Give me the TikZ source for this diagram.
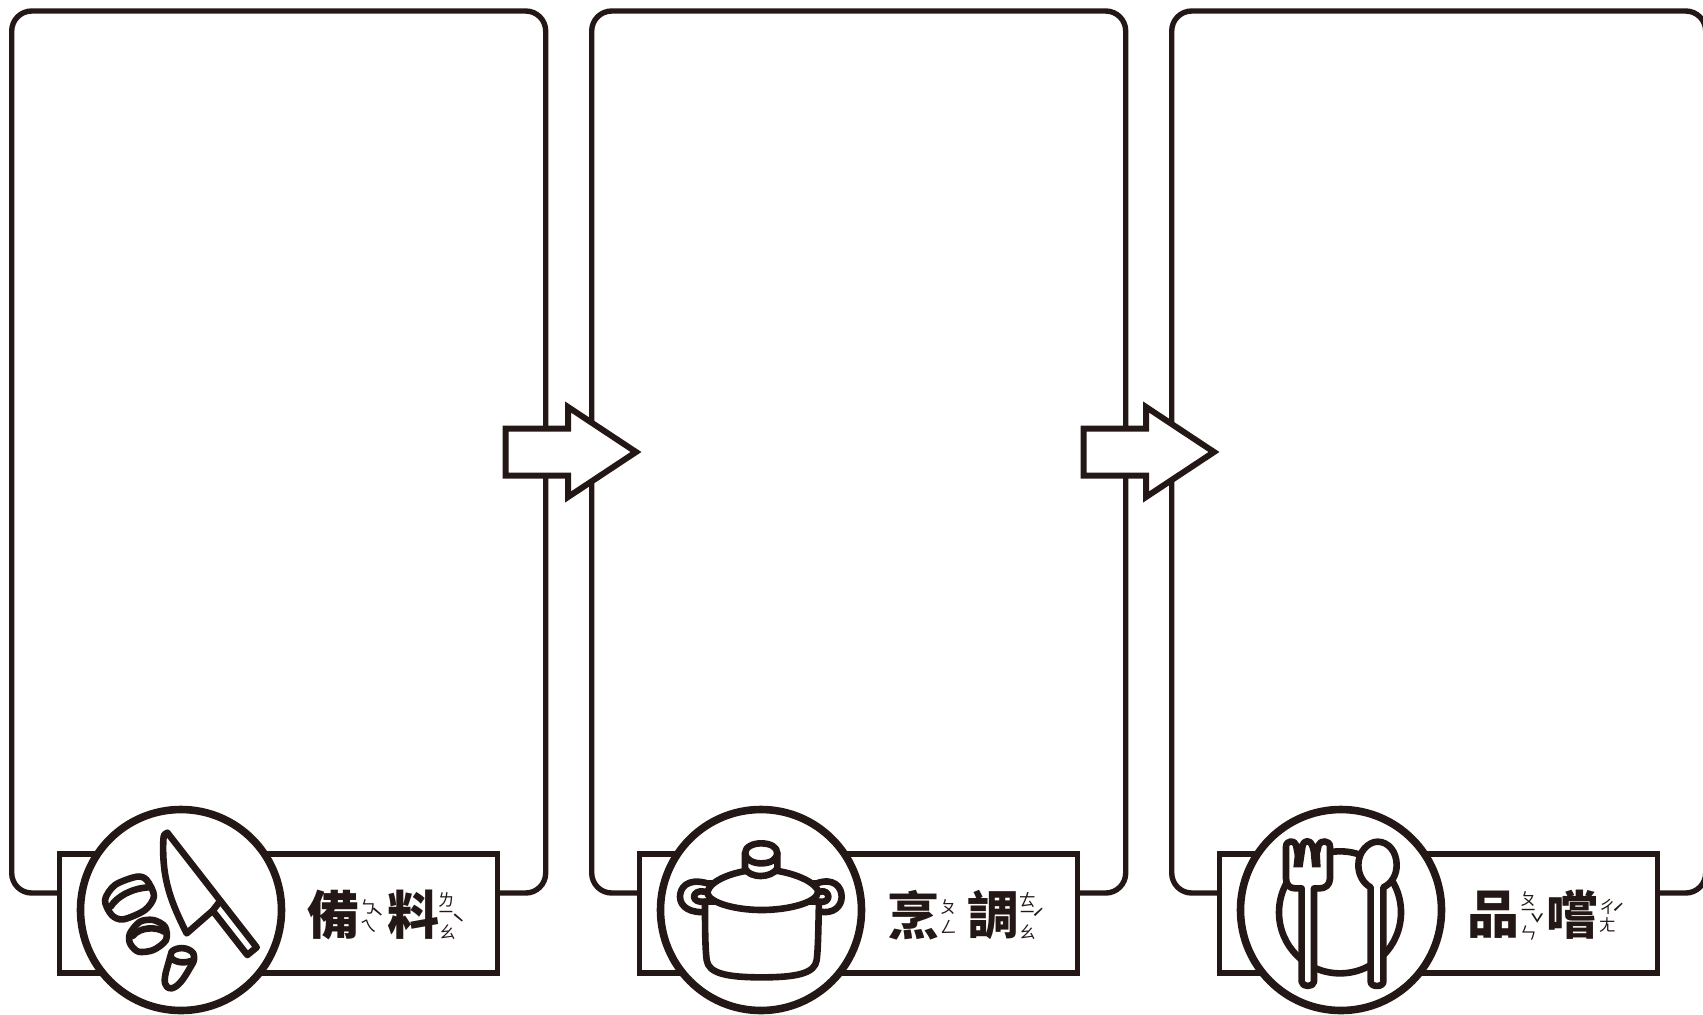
\documentclass[tikz,border=0pt]{standalone}
\usepackage{fontspec}
\newfontfamily\cjk{Noto Sans CJK TC}
\definecolor{ink}{HTML}{231815}
\begin{document}
\begin{tikzpicture}[x=0.5pt,y=-0.5pt]
\tikzstyle{panel}=[draw=ink,line width=2.7pt,rounded corners=10pt,minimum width=267pt,minimum height=441pt,inner sep=0pt]
\tikzstyle{tagbox}=[draw=ink,fill=white,line width=2.7pt,minimum width=219pt,minimum height=59.5pt,inner sep=0pt]
\tikzstyle{badge}=[draw=ink,fill=white,circle,line width=3.8pt,minimum size=100.5pt,inner sep=0pt]
\tikzstyle{hanzi}=[text=ink,inner sep=0pt,font=\cjk\bfseries\fontsize{26}{26}\selectfont]
\tikzstyle{zhuyin}=[text=ink,inner sep=0pt,font=\cjk\fontsize{8.5}{8.5}\selectfont]
\tikzstyle{tone}=[text=ink,inner sep=0pt,font=\cjk\fontsize{12}{12}\selectfont]
\tikzstyle{icon}=[draw=ink,fill=white,line width=3.3pt,line join=round,line cap=round]
\tikzstyle{iconline}=[draw=ink,line width=3.3pt,line join=round,line cap=round]
\tikzstyle{pointer}=[draw=ink,fill=white,line width=3pt,miter limit=10]
\tikzstyle{zoomed}=[x=0.16667pt,y=-0.16667pt]
\useasboundingbox (0,0) rectangle (1703,1014);
\clip (0,0) rectangle (1703,1014);
% frames
\node[panel] (p1) at (278.7,452) {};
\node[panel] (p2) at (858.7,452) {};
\node[panel] (p3) at (1438.7,452) {};
\draw[pointer] (505.5,428.5) -- (568,428.5) -- (568,407) -- (636,452) -- (568,497) -- (568,475.5) -- (505.5,475.5) -- cycle;
\draw[pointer] (1083.5,428.5) -- (1146,428.5) -- (1146,407) -- (1214,452) -- (1146,497) -- (1146,475.5) -- (1083.5,475.5) -- cycle;
% first step
\node[tagbox] (tag1) at (278.5,913.5) {};
\node[badge] (badge1) at (181,910) {};
\node[hanzi] (bei) at (333,915) {備};
\node[hanzi] (liao) at (413.3,915) {料};
\node[zhuyin] (bei1) at (368.3,906.7) {ㄅ};
\node[zhuyin] (bei2) at (368.3,926) {ㄟ};
\node[tone] (bei3) at (378,917.3) {ˋ};
\node[zhuyin] (liao1) at (446,900) {ㄌ};
\node[zhuyin] (liao2) at (446,915) {ㄧ};
\node[zhuyin] (liao3) at (447.3,931.7) {ㄠ};
\node[tone] (liao4) at (458.7,923.3) {ˋ};
\begin{scope}[shift={(40,790)},zoomed]
\path[icon] (382,128) -- (650,472) -- (622,495) -- (518,362) -- (440,430) .. controls (395,340) and (365,270) .. (370,150) .. controls (370,135) and (375,128) .. (382,128) -- cycle;
\draw[iconline] (535,340) -- (518,362);
\path[icon] plot[smooth cycle] coordinates {(195,330) (225,285) (290,260) (320,270) (342,318) (315,360) (250,388) (215,375)};
\draw[iconline] (212,350) .. controls (230,320) and (275,295) .. (325,292);
\path[icon] plot[smooth cycle] coordinates {(270,430) (300,395) (340,390) (375,410) (378,450) (340,480) (295,485) (270,460)};
\draw[iconline] (278,438) .. controls (300,410) and (350,410) .. (372,425);
\path[icon] (395,485) .. controls (410,470) and (445,470) .. (460,490) .. controls (465,505) and (462,515) .. (455,525) .. controls (440,550) and (420,590) .. (395,595) .. controls (370,595) and (372,570) .. (378,545) -- cycle;
\draw[iconline] (395,505) .. controls (410,520) and (440,520) .. (460,510);
\end{scope}
% second step
\node[tagbox] (tag2) at (858.5,913.5) {};
\node[badge] (badge2) at (761,910) {};
\node[hanzi] (peng) at (913,915) {烹};
\node[hanzi] (tiao) at (993,915) {調};
\node[zhuyin] (peng1) at (948.3,906.7) {ㄆ};
\node[zhuyin] (peng2) at (948.3,926.7) {ㄥ};
\node[zhuyin] (tiao1) at (1027.3,900) {ㄊ};
\node[zhuyin] (tiao2) at (1027.3,915) {ㄧ};
\node[zhuyin] (tiao3) at (1027.3,931.7) {ㄠ};
\node[tone] (tiao4) at (1038.7,918.3) {ˊ};
\begin{scope}[shift={(620,790)},zoomed]
\path[icon] (262,280) .. controls (200,262) and (180,295) .. (180,320) .. controls (180,350) and (210,372) .. (265,365) -- (600,365) .. controls (640,372) and (665,350) .. (665,320) .. controls (665,290) and (640,262) .. (590,280) -- cycle;
\path[icon] (255,305) .. controls (235,300) and (222,310) .. (222,320) .. controls (222,330) and (235,338) .. (255,335) -- (600,335) .. controls (615,338) and (625,330) .. (625,320) .. controls (625,310) and (615,300) .. (600,305) -- cycle;
\path[icon] (255,335) .. controls (255,400) and (255,470) .. (260,510) .. controls (265,550) and (320,562) .. (425,562) .. controls (530,562) and (585,550) .. (590,510) .. controls (595,470) and (595,400) .. (597,335) -- cycle;
\path[icon] (262,310) .. controls (270,340) and (350,360) .. (425,360) .. controls (500,360) and (590,340) .. (595,305) .. controls (585,270) and (500,240) .. (425,238) .. controls (350,240) and (265,270) .. (262,310) -- cycle;
\path[icon] (375,190) .. controls (375,170) and (400,160) .. (423,160) .. controls (450,160) and (472,170) .. (472,190) -- (472,235) .. controls (465,250) and (440,258) .. (423,258) .. controls (400,258) and (382,250) .. (375,235) -- cycle;
\draw[iconline] (375,190) .. controls (378,210) and (400,220) .. (423,220) .. controls (450,220) and (470,210) .. (472,190);
\end{scope}
% third step
\node[tagbox] (tag3) at (1438.5,913.5) {};
\node[badge] (badge3) at (1341,910) {};
\node[hanzi] (pin) at (1493,915) {品};
\node[hanzi] (chang) at (1572.7,915) {嚐};
\node[zhuyin] (pin1) at (1528.3,899.3) {ㄆ};
\node[zhuyin] (pin2) at (1528.3,913.3) {ㄧ};
\node[zhuyin] (pin3) at (1528.3,932.7) {ㄣ};
\node[tone] (pin4) at (1538,923.3) {ˇ};
\node[zhuyin] (chang1) at (1607.3,906.7) {ㄔ};
\node[zhuyin] (chang2) at (1607.3,925) {ㄤ};
\node[tone] (chang3) at (1618.7,913.3) {ˊ};
\begin{scope}[shift={(1200,790)},zoomed]
\path[iconline] (420,367) circle [x radius=183,y radius=183];
\path[icon] (258,170) .. controls (258,150) and (285,150) .. (288,165) -- (295,200) -- (308,165) .. controls (312,150) and (332,150) .. (336,165) -- (348,200) -- (356,165) .. controls (360,150) and (390,150) .. (390,170) -- (390,265) .. controls (390,285) and (375,295) .. (360,295) -- (342,295) -- (342,575) .. controls (342,592) and (305,592) .. (305,575) -- (305,295) -- (285,295) .. controls (270,295) and (258,285) .. (258,265) -- cycle;
\fill[ink] (288,160) -- (280,232) -- (308,232) -- (318,165) -- cycle;
\fill[ink] (330,165) -- (336,232) -- (362,232) -- (358,160) -- cycle;
\path[icon] (512,292) .. controls (490,280) and (475,255) .. (475,225) .. controls (475,185) and (505,155) .. (533,155) .. controls (565,155) and (590,185) .. (590,225) .. controls (590,255) and (575,280) .. (550,292) -- (550,575) .. controls (550,592) and (512,592) .. (512,575) -- cycle;
\end{scope}
\end{tikzpicture}
\end{document}
